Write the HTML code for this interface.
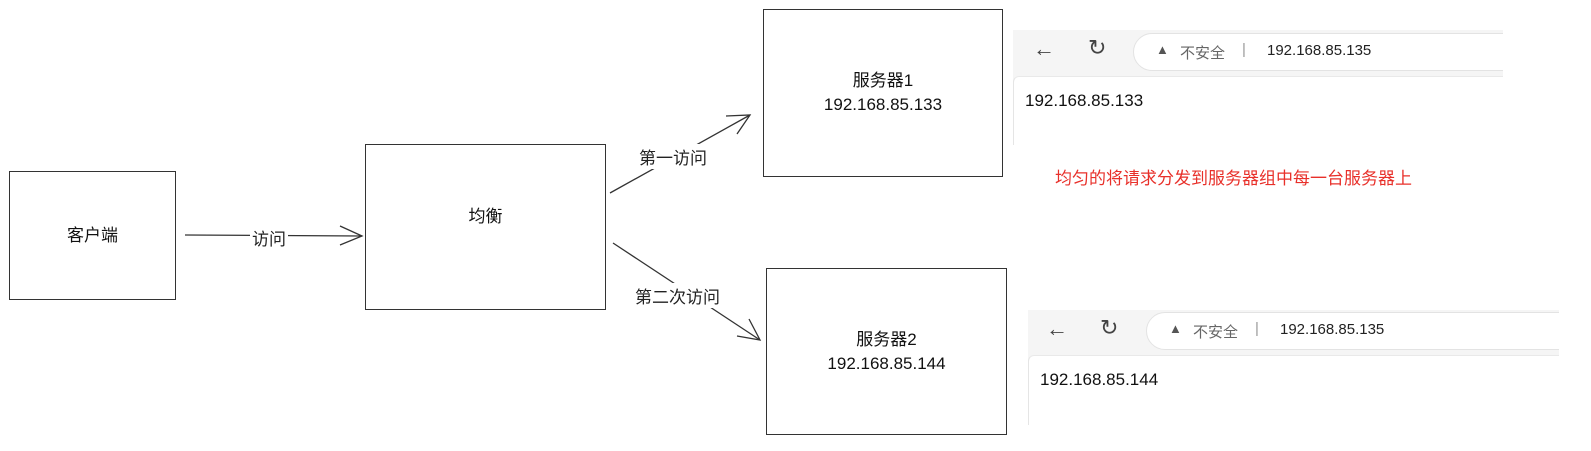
<!DOCTYPE html>
<html><head><meta charset="utf-8"><style>
body{margin:0;background:#fff;width:1591px;height:451px;overflow:hidden;position:relative;font-family:"Liberation Sans","Noto Sans CJK SC",sans-serif}
.box{position:absolute;border:1px solid #333;box-sizing:border-box;display:flex;align-items:center;justify-content:center;text-align:center;font-size:17px;color:#111;line-height:24px}
.lbl{position:absolute;font-size:17px;color:#222;background:#fff;padding:0 2px}
.shot{position:absolute;background:#f5f5f5;overflow:hidden}
.pill{position:absolute;background:#fff;border:1px solid #e3e3e3;border-radius:19px;font-size:15px;color:#222}
.content{position:absolute;background:#fff;border-left:1px solid #e5e5e5;border-top:1px solid #e9e9e9;border-top-left-radius:6px;font-size:17px;color:#111}
</style></head><body>
<div class="box" style="left:9px;top:171px;width:167px;height:129px">客户端</div>
<div class="box" style="left:365px;top:144px;width:241px;height:166px;padding-bottom:20px">均衡</div>
<div class="box" style="left:763px;top:9px;width:240px;height:168px">服务器1<br>192.168.85.133</div>
<div class="box" style="left:766px;top:268px;width:241px;height:167px">服务器2<br>192.168.85.144</div>
<svg style="position:absolute;left:0;top:0" width="1591" height="451">
<g stroke="#333" stroke-width="1.3" fill="none">
<line x1="185" y1="235" x2="362" y2="236"/><polyline points="340,226 362,236 340,245"/>
<line x1="610" y1="193" x2="750" y2="115"/><polyline points="726,116 750,115 737,134"/>
<line x1="613" y1="243" x2="760" y2="340"/><polyline points="749,319 760,340 737,336"/>
</g></svg>
<div class="lbl" style="left:250px;top:225px">访问</div>
<div class="lbl" style="left:637px;top:144px">第一访问</div>
<div class="lbl" style="left:633px;top:283px">第二次访问</div>
<div style="position:absolute;left:1055px;top:164px;color:#e8302a;font-size:17px">均匀的将请求分发到服务器组中每一台服务器上</div>

<div class="shot" style="left:1013px;top:30px;width:490px;height:115px">
<div style="position:absolute;left:20px;top:6px;font-size:22px;color:#444">←</div>
<div style="position:absolute;left:75px;top:5px;font-size:22px;color:#444">↻</div>
<div class="pill" style="left:120px;top:3px;width:400px;height:36px"><span style="position:absolute;left:22px;top:8px;font-size:13px;color:#555">▲</span><span style="position:absolute;left:46px;top:8px;color:#666">不安全</span><span style="position:absolute;left:108px;top:7px;color:#999">|</span><span style="position:absolute;left:133px;top:8px">192.168.85.135</span></div>
<div class="content" style="left:0;top:46px;width:500px;height:80px"><span style="position:absolute;left:11px;top:14px">192.168.85.133</span></div>
</div>

<div class="shot" style="left:1028px;top:310px;width:531px;height:115px">
<div style="position:absolute;left:18px;top:6px;font-size:22px;color:#444">←</div>
<div style="position:absolute;left:72px;top:5px;font-size:22px;color:#444">↻</div>
<div class="pill" style="left:118px;top:2px;width:440px;height:36px"><span style="position:absolute;left:22px;top:8px;font-size:13px;color:#555">▲</span><span style="position:absolute;left:46px;top:8px;color:#666">不安全</span><span style="position:absolute;left:108px;top:7px;color:#999">|</span><span style="position:absolute;left:133px;top:8px">192.168.85.135</span></div>
<div class="content" style="left:0;top:45px;width:540px;height:80px"><span style="position:absolute;left:11px;top:14px">192.168.85.144</span></div>
</div>
</body></html>
